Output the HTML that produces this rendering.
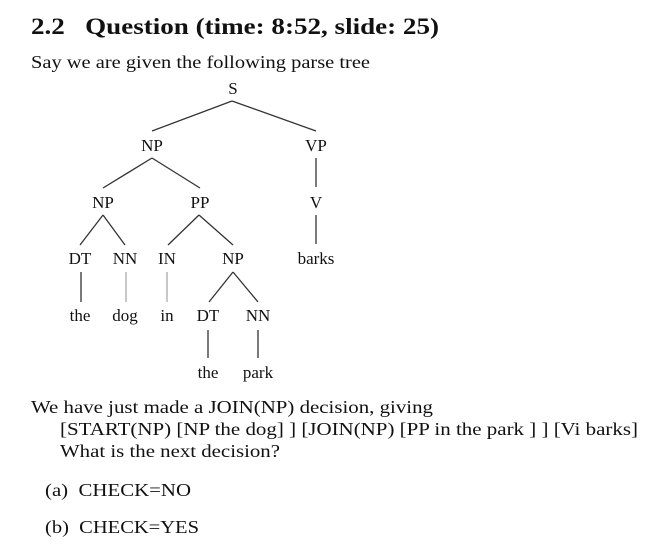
<!DOCTYPE html>
<html><head><meta charset="utf-8"><style>
html,body{margin:0;padding:0;background:#fff;width:658px;height:550px;overflow:hidden}
svg{display:block}
text{font-family:"Liberation Serif",serif;fill:#111}
</style></head><body>
<svg width="658" height="550" viewBox="0 0 658 550">
<text x="31" y="34" font-size="23" font-weight="bold" textLength="408" lengthAdjust="spacingAndGlyphs">2.2&#160;&#160;&#160;Question (time: 8:52, slide: 25)</text>
<text x="31" y="68" font-size="18" textLength="339" lengthAdjust="spacingAndGlyphs">Say we are given the following parse tree</text>
<g stroke="#333" stroke-width="1.3" fill="none">
<line x1="232" y1="101" x2="152" y2="131"/><line x1="232" y1="101" x2="316" y2="131"/>
<line x1="316" y1="158" x2="316" y2="187"/><line x1="316" y1="215" x2="316" y2="244"/>
<line x1="152" y1="158" x2="103" y2="188"/><line x1="152" y1="158" x2="200" y2="188"/>
<line x1="103" y1="215" x2="80" y2="245"/><line x1="103" y1="215" x2="125" y2="245"/>
<line x1="199" y1="215" x2="168" y2="245"/><line x1="199" y1="215" x2="233" y2="245"/>
<line x1="81" y1="272" x2="81" y2="302"/><line x1="126" y1="272" x2="126" y2="302" stroke="#aaa"/><line x1="167" y1="272" x2="167" y2="302" stroke="#aaa"/>
<line x1="233" y1="272" x2="209" y2="302"/><line x1="233" y1="272" x2="258" y2="302"/>
<line x1="208" y1="330" x2="208" y2="358"/><line x1="258" y1="330" x2="258" y2="358"/>
</g>
<g font-size="17" text-anchor="middle">
<text x="233" y="94">S</text>
<text x="152" y="151">NP</text><text x="316" y="151">VP</text>
<text x="103" y="208">NP</text><text x="200" y="208">PP</text><text x="316" y="208">V</text>
<text x="80" y="264">DT</text><text x="125" y="264">NN</text><text x="167" y="264">IN</text><text x="233" y="264">NP</text><text x="316" y="264">barks</text>
<text x="80" y="321">the</text><text x="125" y="321">dog</text><text x="167" y="321">in</text><text x="208" y="321">DT</text><text x="258" y="321">NN</text>
<text x="208" y="378">the</text><text x="258" y="378">park</text>
</g>
<g font-size="18">
<text x="31" y="413" textLength="402" lengthAdjust="spacingAndGlyphs">We have just made a JOIN(NP) decision, giving</text>
<text x="60" y="435" textLength="578" lengthAdjust="spacingAndGlyphs">[START(NP) [NP the dog] ] [JOIN(NP) [PP in the park ] ] [Vi barks]</text>
<text x="60" y="457" textLength="220" lengthAdjust="spacingAndGlyphs">What is the next decision?</text>
<text x="45" y="496" textLength="146" lengthAdjust="spacingAndGlyphs">(a)&#160;&#160;CHECK=NO</text>
<text x="45" y="533" textLength="154" lengthAdjust="spacingAndGlyphs">(b)&#160;&#160;CHECK=YES</text>
</g>
</svg>
</body></html>
